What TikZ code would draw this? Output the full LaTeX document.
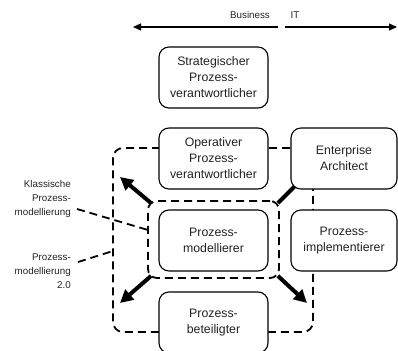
\documentclass[tikz,border=0pt]{standalone}
\usepackage{fontspec}
\setmainfont{Liberation Sans}
\usetikzlibrary{arrows.meta}
\definecolor{txt}{HTML}{222222}
\begin{document}
\begin{tikzpicture}[x=1pt,y=-1pt,
  role/.style={draw=black, line width=1.1pt, fill=white, rounded corners=10pt,
    minimum width=109pt, minimum height=61pt, align=center, inner sep=0pt,
    text=txt, font=\fontsize{12.3}{16}\selectfont},
  dline/.style={draw=black, line width=1.8pt, dash pattern=on 8pt off 5pt},
  lbl/.style={align=right, anchor=east, text=txt, inner sep=0pt,
    font=\fontsize{9.8}{14}\selectfont},
  thick arrow/.style={line width=4pt, -{Triangle[length=13pt,width=13pt]}},
  axis/.style={line width=1.1pt, -{Triangle[length=8pt,width=7pt]}}]
\useasboundingbox (0,0) rectangle (398,350);

% axis
\node[text=txt, font=\fontsize{9.8}{12}\selectfont, inner sep=0pt] (bus) at (250,15) {Business};
\node[text=txt, font=\fontsize{9.8}{12}\selectfont, inner sep=0pt] (it) at (295,15) {IT};
\coordinate (mid1) at (278,27);
\coordinate (mid2) at (285,27);
\coordinate (lend) at (133,27);
\coordinate (rend) at (397,27);
\draw[axis] (mid1) -- (lend);
\draw[axis] (mid2) -- (rend);

% dashed groups
\node[dline, rounded corners=10pt, minimum width=200pt, minimum height=184pt, inner sep=0pt] (outer) at (213,240) {};
\node[dline, rounded corners=9pt, minimum width=131pt, minimum height=77pt, inner sep=0pt] (klass) at (213.5,239.5) {};

% boxes
\node[role] (strat) at (213.5,77.5) {Strategischer\\Prozess-\\verantwortlicher};
\node[role] (oper) at (213.5,158.5) {Operativer\\Prozess-\\verantwortlicher};
\node[role, minimum width=106pt] (ea) at (344,158.5) {Enterprise\\Architect};
\node[role] (mod) at (213.5,240.5) {Prozess-\\modellierer};
\node[role, minimum width=106pt] (impl) at (344,240.5) {Prozess-\\implementierer};
\node[role] (bet) at (213.5,322.5) {Prozess-\\beteiligter};

% thick arrows
\coordinate (tipNW) at (120,177);
\coordinate (tipSW) at (120,303);
\coordinate (tipSE) at (307,303);
\draw[thick arrow] ([shift={(4pt,-3pt)}]klass.north west) -- (tipNW);
\draw[thick arrow] ([shift={(4pt,3pt)}]klass.south west) -- (tipSW);
\draw[thick arrow] ([shift={(-2pt,3pt)}]klass.south east) -- (tipSE);
\draw[line width=4pt] ([shift={(-2pt,-3pt)}]klass.north east) -- ([shift={(4pt,3pt)}]ea.south west);

% labels
\node[lbl] (lk) at (71,199) {Klassische\\Prozess-\\modellierung};
\node[lbl] (l2) at (71,271) {Prozess-\\modellierung\\2.0};
\coordinate (lkstart) at (77,209);
\coordinate (lkend) at (148,230);
\coordinate (l2start) at (78,262);
\coordinate (l2end) at (113,251);
\draw[dline] (lkstart) -- (lkend);
\draw[dline] (l2start) -- (l2end);
\end{tikzpicture}
\end{document}
